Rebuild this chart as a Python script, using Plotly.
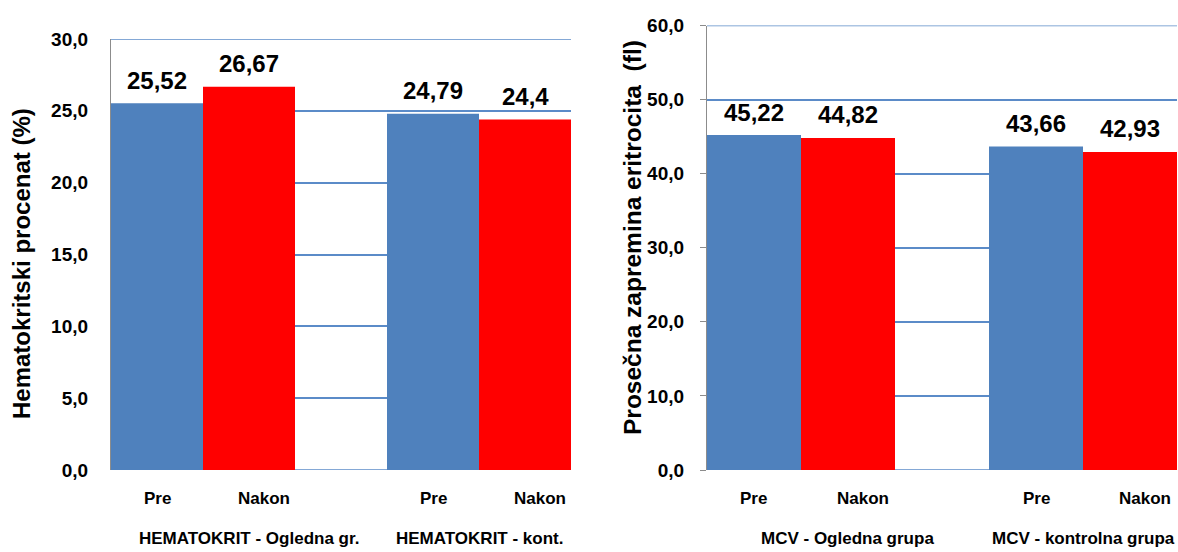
import plotly.graph_objects as go

# --- data -------------------------------------------------------------
series_names = ["Pre", "Nakon"]
hct_groups = ["HEMATOKRIT - Ogledna gr.", "HEMATOKRIT - kont."]
hct_pre = [25.52, 24.79]
hct_nakon = [26.67, 24.4]
mcv_groups = ["MCV - Ogledna grupa", "MCV - kontrolna grupa"]
mcv_pre = [45.22, 43.66]
mcv_nakon = [44.82, 42.93]

hct_ticks = [0, 5, 10, 15, 20, 25, 30]
mcv_ticks = [0, 10, 20, 30, 40, 50, 60]
hct_title = "Hematokritski procenat (%)"
mcv_title = "Prosečna zapremina eritrocita  (fl)"

# --- style ------------------------------------------------------------
BLUE = "#4F81BD"
RED = "#FF0000"
GRID = "#5B8BC8"
AXIS = "#8C8C8C"
FONT = "Liberation Sans, Arial, sans-serif"

W, H = 1178, 552


def fmt(v):
    return f"{v:g}".replace(".", ",")


def bar_x(group, series):
    # 5 equal slots: Pre, Nakon, empty, Pre, Nakon
    return group * 3 + series + 0.5


fig = go.Figure()

panels = [
    dict(xa="x", ya="y", pre=hct_pre, nak=hct_nakon, groups=hct_groups, ticks=hct_ticks),
    dict(xa="x2", ya="y2", pre=mcv_pre, nak=mcv_nakon, groups=mcv_groups, ticks=mcv_ticks),
]

annotations = []
shapes = []
for p in panels:
    # gridlines at the ends of the value axis (plotly skips those at the edges)
    for yv in (p["ticks"][0], p["ticks"][-1]):
        shapes.append(dict(
            type="line", xref=p["xa"] + " domain", yref=p["ya"],
            x0=0, x1=1, y0=yv, y1=yv, layer="below",
            line=dict(color=GRID, width=1.5),
        ))
    for s, (vals, color) in enumerate([(p["pre"], BLUE), (p["nak"], RED)]):
        xs = [bar_x(g, s) for g in range(len(vals))]
        fig.add_trace(go.Bar(
            x=xs, y=vals, width=1, marker=dict(color=color, line=dict(width=0)),
            xaxis=p["xa"], yaxis=p["ya"], showlegend=False, hoverinfo="skip",
        ))
        for xv, v in zip(xs, vals):
            annotations.append(dict(
                x=xv, y=v, xref=p["xa"], yref=p["ya"], text=fmt(v),
                showarrow=False, yanchor="middle", yshift=23,
                font=dict(family=FONT, size=24, color="black", weight="bold"),
            ))
            annotations.append(dict(
                x=xv, y=0, xref=p["xa"], yref=p["ya"], text=series_names[s],
                showarrow=False, yanchor="middle", yshift=-28,
                xshift=15 if s == 1 else 0,
                font=dict(family=FONT, size=17, color="black", weight="bold"),
            ))
    for g, name in enumerate(p["groups"]):
        annotations.append(dict(
            x=1.5 + 2.5 * g, y=0, xref=p["xa"], yref=p["ya"], text=name,
            showarrow=False, yanchor="middle", yshift=-68,
            font=dict(family=FONT, size=17, color="black", weight="bold"),
        ))

# axis titles
annotations.append(dict(
    x=21 / W, y=1 - 264 / H, xref="paper", yref="paper", text=hct_title,
    textangle=-90, showarrow=False, xanchor="center", yanchor="middle",
    font=dict(family=FONT, size=24, color="black", weight="bold"),
))
annotations.append(dict(
    x=632 / W, y=1 - 238 / H, xref="paper", yref="paper", text=mcv_title,
    textangle=-90, showarrow=False, xanchor="center", yanchor="middle",
    font=dict(family=FONT, size=24.5, color="black", weight="bold"),
))

xcommon = dict(range=[0, 5], showgrid=False, zeroline=False, showticklabels=False,
               showline=False, ticks="", fixedrange=True, automargin=False)
ycommon = dict(showgrid=True, gridcolor=GRID, gridwidth=1.5, zeroline=False,
               showline=True, linecolor=AXIS, linewidth=1.3, tickformat=".1f",
               automargin=False, fixedrange=True, layer="above traces",
               tickfont=dict(family=FONT, size=19, color="black", weight="bold"))

fig.update_layout(
    width=W, height=H,
    margin=dict(l=0, r=0, t=0, b=0, pad=0),
    paper_bgcolor="white", plot_bgcolor="white",
    barmode="overlay",
    separators=",.",
    xaxis=dict(domain=[111 / W, 571 / W], anchor="y", **xcommon),
    xaxis2=dict(domain=[707 / W, 1177 / W], anchor="y2", **xcommon),
    yaxis=dict(domain=[1 - 470 / H, 1 - 39 / H], anchor="x", range=[0, 30],
               tickvals=hct_ticks, ticks="", ticklabelstandoff=18, **ycommon),
    yaxis2=dict(domain=[1 - 470 / H, 1 - 25.5 / H], anchor="x2", range=[0, 60],
                tickvals=mcv_ticks, ticks="outside", ticklen=6, tickcolor=AXIS,
                ticklabelstandoff=12, **ycommon),
    shapes=shapes,
    annotations=annotations,
)

fig.write_html("out.html")
